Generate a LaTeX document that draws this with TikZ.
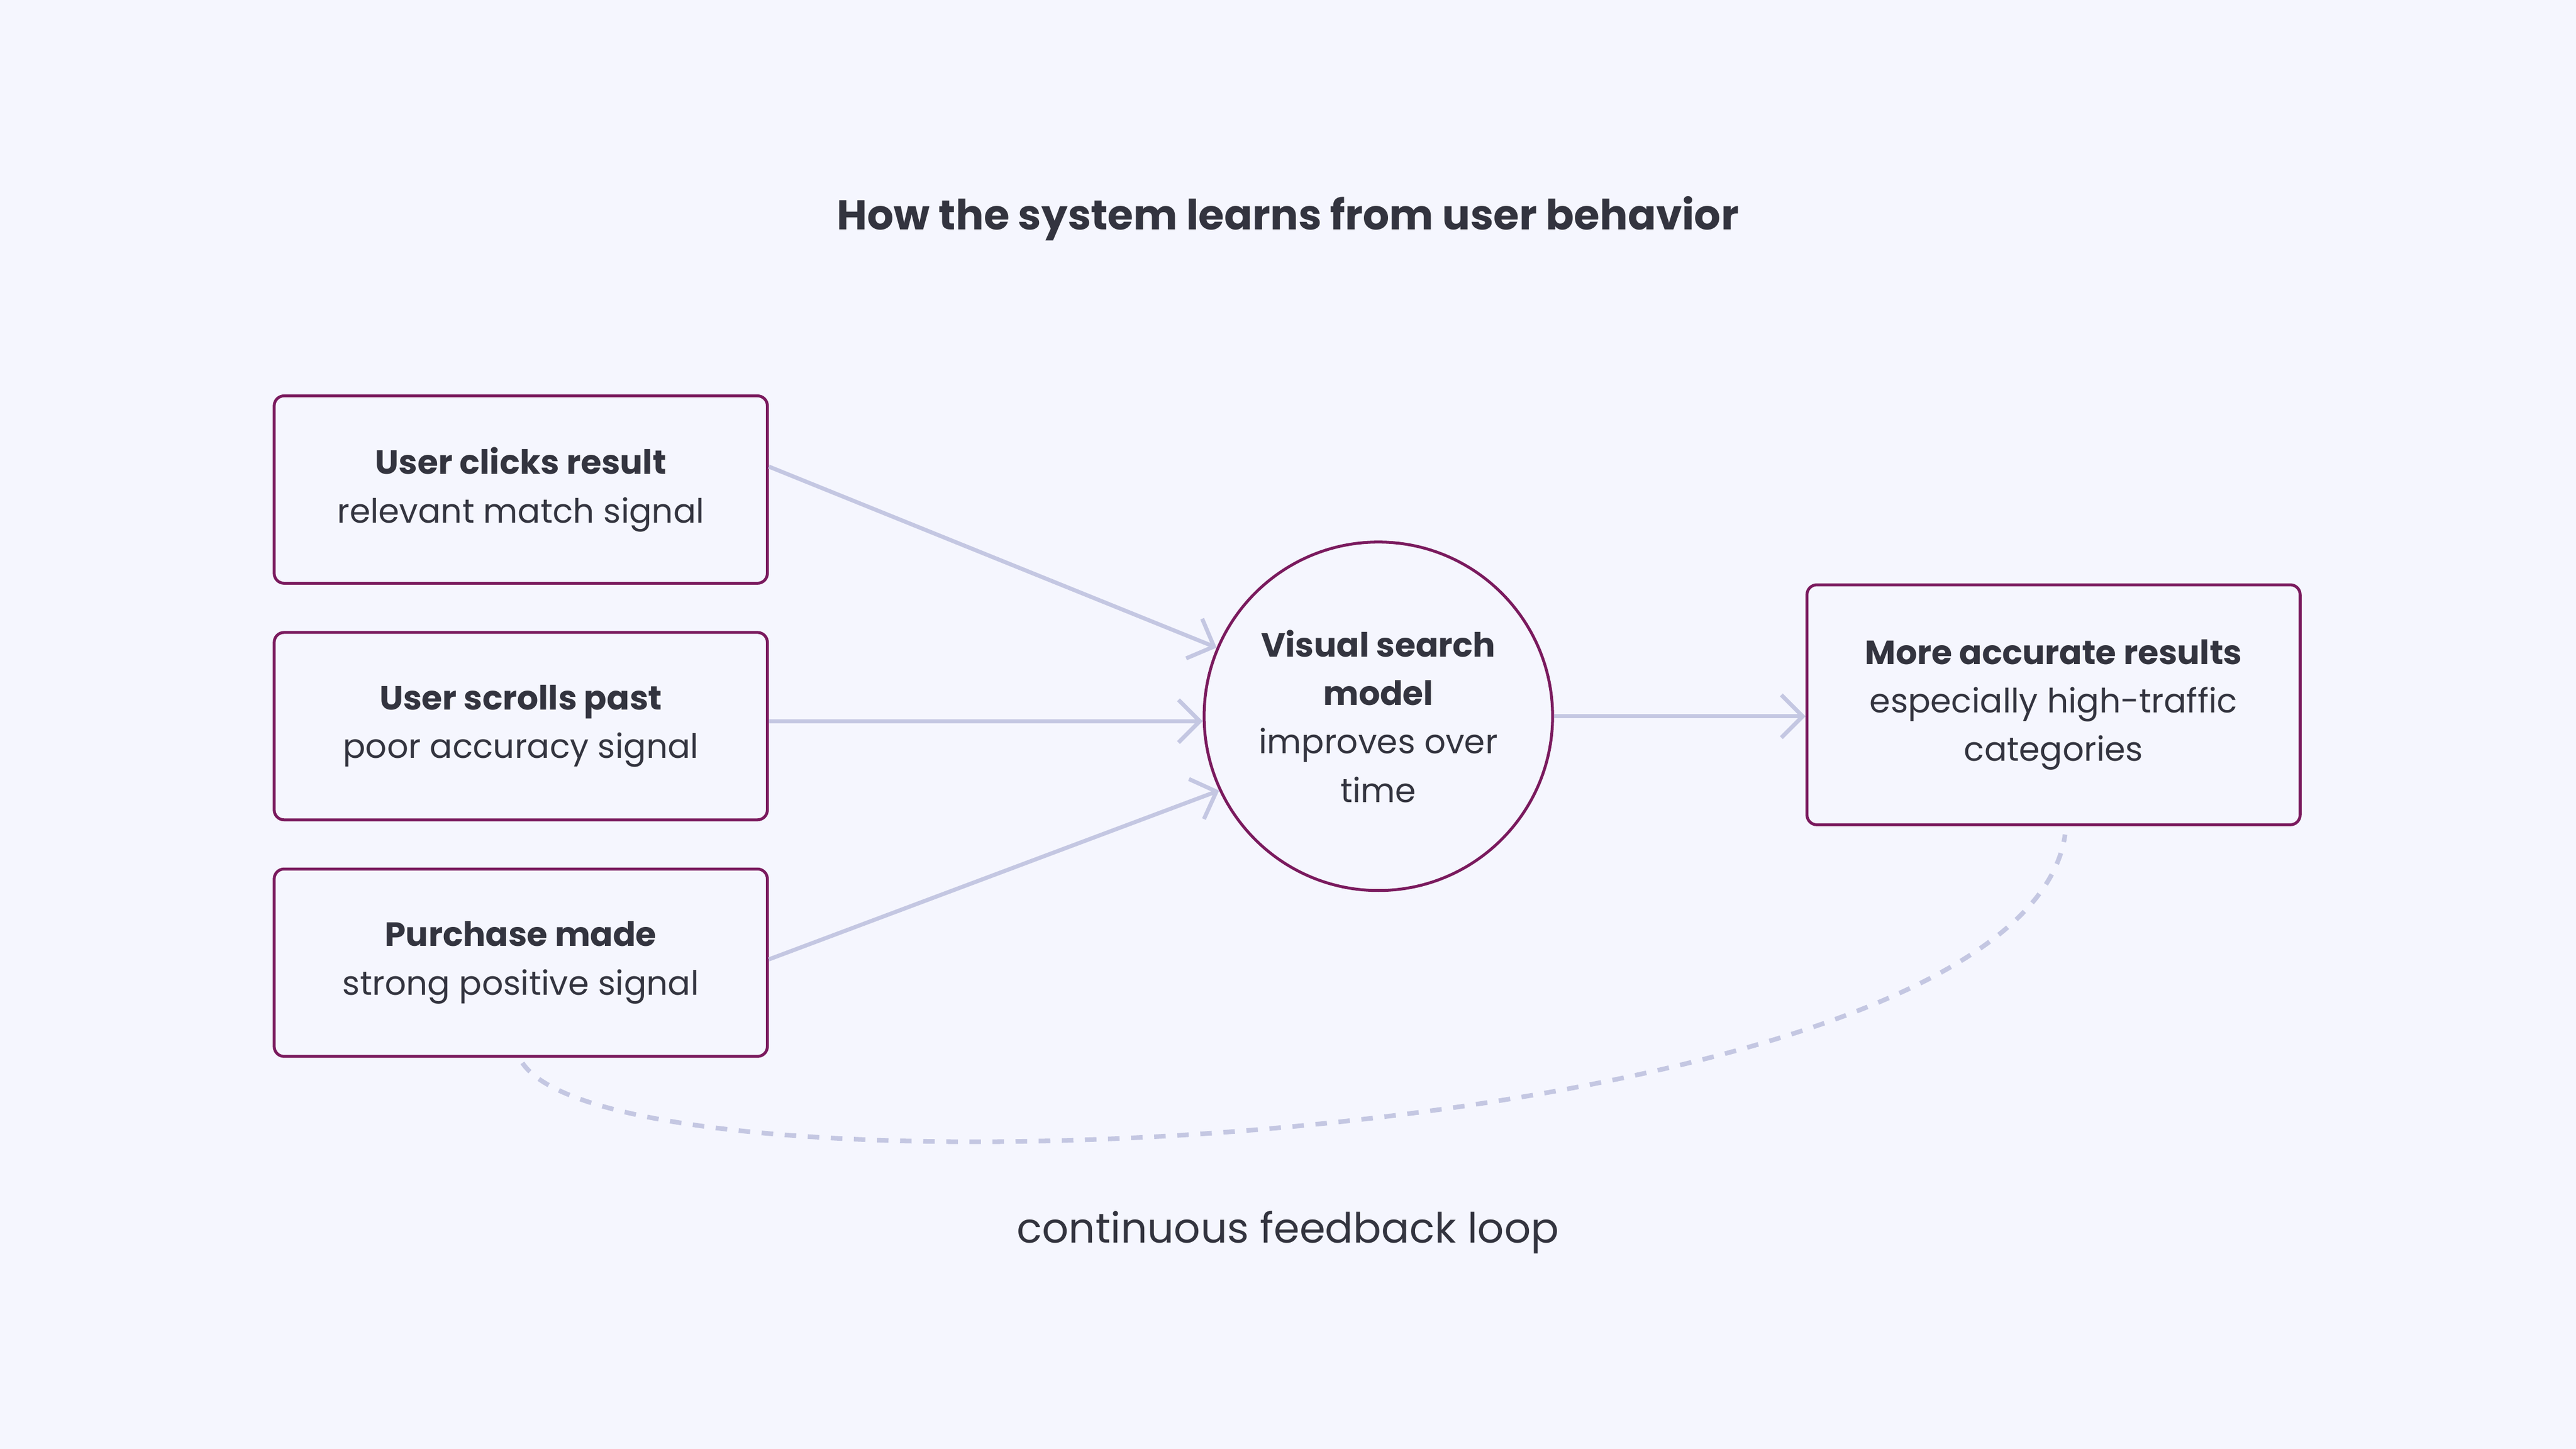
\documentclass[tikz,border=0pt]{standalone}
\usepackage{fontspec}
\setmainfont{Poppins}
\usetikzlibrary{arrows.meta,positioning}
\definecolor{bgcol}{HTML}{F5F6FE}
\definecolor{edgecol}{HTML}{7A1A5E}
\definecolor{linkcol}{HTML}{C4C7E2}
\definecolor{txtcol}{HTML}{33343F}
\tikzset{
  signal/.style={draw=edgecol, fill=bgcol, rounded corners=0.06cm, line width=0.5pt,
    minimum width=3cm, minimum height=1.14cm, align=center, text=txtcol,
    font=\fontsize{5.8pt}{8.4pt}\selectfont},
  model/.style={draw=edgecol, fill=bgcol, circle, minimum size=2.12cm, line width=0.5pt,
    align=center, text=txtcol, font=\fontsize{5.8pt}{8.4pt}\selectfont},
  link/.style={draw=linkcol, line width=0.7pt, -{Straight Barb[length=1.3mm,width=2.6mm]}},
}
\begin{document}
\begin{tikzpicture}[x=0.01cm,y=-0.01cm]
  \fill[bgcol] (0,0) rectangle (1568,882);
  \useasboundingbox (0,0) rectangle (1568,882);

  \node[text=txtcol, font=\fontsize{7.2pt}{9pt}\selectfont] (title) at (784,133) {\textbf{How the system learns from user behavior}};

  \node[signal] (clicks) at (317,298) {\textbf{User clicks result}\\relevant match signal};
  \node[signal] (scrolls) at (317,442) {\textbf{User scrolls past}\\poor accuracy signal};
  \node[signal] (purchase) at (317,586) {\textbf{Purchase made}\\strong positive signal};
  \node[model] (vsm) at (839,436) {\textbf{Visual search}\\\textbf{model}\\improves over\\time};
  \node[signal, minimum height=1.46cm] (results) at (1250,429) {\textbf{More accurate results}\\especially high-traffic\\categories};

  \draw[link] (clicks.east) ++(0,-14) -- (vsm.157);
  \draw[link] (scrolls.east) ++(0,-3) -- (vsm.west |- 0,439);
  \draw[link] (purchase.east) ++(0,-2) -- (vsm.205);
  \draw[link] (vsm.east) -- (results.west |- vsm.east);

  \coordinate (loopA) at (318,647);
  \coordinate (loopB) at (1257,508);
  \draw[linkcol, line width=0.8pt, dash pattern=on 2pt off 2pt] (loopA) .. controls (380,740) and (1230,700) .. (loopB);
  \node[text=txtcol, font=\fontsize{7.2pt}{9pt}\selectfont] (looplabel) at (784,750) {continuous feedback loop};
\end{tikzpicture}
\end{document}
